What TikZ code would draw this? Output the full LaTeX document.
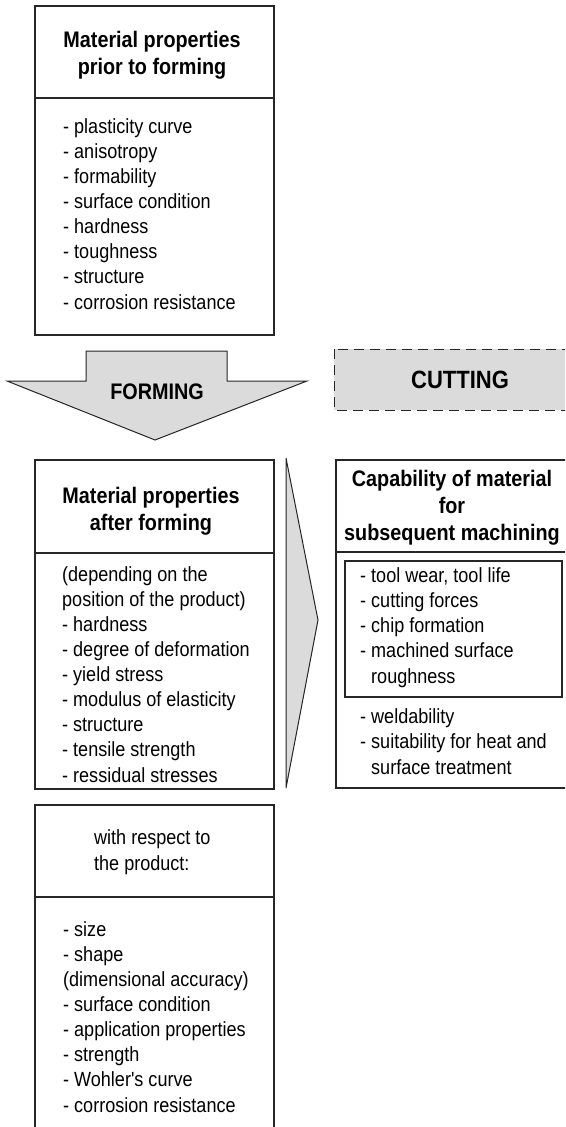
\documentclass[tikz,border=0pt]{standalone}
\usepackage{fontspec}
\setmainfont{Liberation Sans}[FakeStretch=0.88, Ligatures=TeXOff]
\begin{document}
\begin{tikzpicture}[x=1pt,y=-1pt,
  box/.style={draw=black!85, line width=1.1pt},
  shade/.style={fill=black!14, draw=black!85, line width=1pt, line join=miter},
  ttl/.style={font=\fontsize{22.5}{27}\selectfont\bfseries, align=center, inner sep=0pt, anchor=base},
  lst/.style={font=\fontsize{20.5}{25.1}\selectfont, align=left, inner sep=0pt, anchor=base west},
  big/.style={font=\fontsize{22.5}{27}\selectfont\bfseries, inner sep=0pt}]
\useasboundingbox (0,0) rectangle (565,1127);
\fill[white] (0,0) rectangle (565,1127);
\clip (0,0) rectangle (565,1127);

% box 1 (anchors are at the baseline of the last line)
\draw[box] (35,6) rectangle (274,335);
\draw[box] (35,98) -- (274,98);
\node[ttl] (t1) at (152,74) {Material properties\\prior to forming};
\node[lst] (l1) at (63,309) {- plasticity curve\\- anisotropy\\- formability\\- surface condition\\- hardness\\- toughness\\- structure\\- corrosion resistance};

% forming arrow
\draw[shade] (86,351) -- (227,351) -- (227,381) -- (307,381) -- (155,440) -- (7,381) -- (86,381) -- cycle;
\node[big] (forming) at (157,392) {FORMING};

% cutting
\draw[fill=black!14, draw=black!85, line width=1pt, dash pattern=on 10pt off 6pt] (334,349) rectangle (600,410);
\node[big, font=\fontsize{25}{30}\selectfont\bfseries] (cutting) at (460,380) {CUTTING};

% box 2
\draw[box] (35,460) rectangle (274,789);
\draw[box] (35,553) -- (274,553);
\node[ttl] (t2) at (151,530) {Material properties\\after forming};
\node[lst] (l2) at (62,782) {(depending on the\\position of the product)\\- hardness\\- degree of deformation\\- yield stress\\- modulus of elasticity\\- structure\\- tensile strength\\- ressidual stresses};

% right arrow
\draw[shade] (286,458) -- (318,620) -- (286,788) -- cycle;

% right box
\draw[box] (336,460) rectangle (568,788);
\draw[box] (336,552) -- (568,552);
\node[ttl] (t4) at (452,540) {Capability of material\\for\\subsequent machining};
\draw[box] (345,561) rectangle (562,697);
\node[lst] (l4) at (360,683) {- tool wear, tool life\\- cutting forces\\- chip formation\\- machined surface\\\phantom{- }roughness};
\node[lst] (l5) at (360,774) {- weldability\\- suitability for heat and\\\phantom{- }surface treatment};

% box 3
\draw[box] (35,805) rectangle (274,1140);
\draw[box] (35,897) -- (274,897);
\node[lst] (t3) at (94,870) {with respect to\\the product:};
\node[lst] (l3) at (63,1112) {- size\\- shape\\(dimensional accuracy)\\- surface condition\\- application properties\\- strength\\- Wohler's curve\\- corrosion resistance};
\end{tikzpicture}
\end{document}
